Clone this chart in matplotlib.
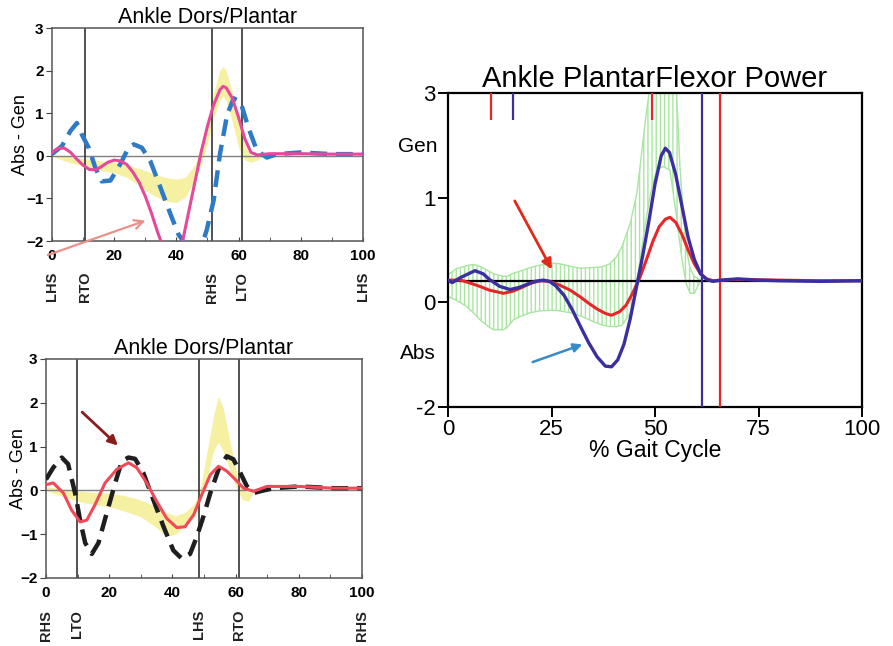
import matplotlib
matplotlib.use('Agg')
import matplotlib.pyplot as plt
from matplotlib.transforms import blended_transform_factory

plt.rcParams['font.family'] = ['Liberation Sans', 'DejaVu Sans']
plt.rcParams['hatch.color'] = '#a8e6a0'
plt.rcParams['hatch.linewidth'] = 1.0

# ---- top left: Ankle Dors/Plantar (pink solid vs blue dashed) ----
tl_pink_x = [0, 2, 4, 6, 8, 10, 12, 14, 16, 18, 20, 22, 24, 26, 28, 30, 32, 34, 36, 38, 40, 42, 44, 46, 48,
             50, 52, 54, 55, 56, 58, 60, 62, 64, 66, 70, 80, 90, 100]
tl_pink_y = [0.08, 0.18, 0.18, 0.08, -0.08, -0.22, -0.32, -0.33, -0.25, -0.15, -0.1, -0.12, -0.2, -0.38, -0.62,
             -0.95, -1.35, -1.8, -2.2, -2.5, -2.45, -2.0, -1.3, -0.6, 0.1, 0.7, 1.2, 1.55, 1.63, 1.6, 1.35, 0.9,
             0.4, 0.08, 0.02, 0.05, 0.05, 0.04, 0.04]
tl_blue_x = [0, 3.2, 5.9, 8, 9.6, 11.8, 13.9, 16, 18.8, 22, 24.6, 26.3, 28.9, 31.6, 34.8, 38, 40.7, 41.8, 44, 46,
             48, 49.8, 52, 54, 56.3, 58.4, 60.6, 63.2, 65.9, 69.1, 72.3, 80, 90, 100]
tl_blue_y = [0.04, 0.23, 0.58, 0.77, 0.5, 0.19, -0.27, -0.6, -0.58, -0.19, 0.19, 0.27, 0.19, -0.12, -0.73, -1.35,
             -1.85, -1.96, -2.3, -2.35, -2.15, -1.73, -1.04, 0.04, 0.96, 1.35, 1.27, 0.65, 0.12, -0.04, 0.04,
             0.08, 0.04, 0.04]
tl_band_x = [0, 4, 8, 12, 16, 20, 24, 28, 32, 36, 40, 43, 46, 48, 50, 52, 54, 55, 56, 58, 60, 62, 64, 66, 68]
tl_band_hi = [0.02, 0.0, -0.05, -0.08, -0.12, -0.15, -0.2, -0.3, -0.4, -0.5, -0.55, -0.5, -0.2, 0.2, 0.8, 1.5,
              2.0, 2.1, 2.0, 1.5, 0.8, 0.25, 0.0, 0.0, 0.0]
tl_band_lo = [0.0, -0.12, -0.2, -0.28, -0.35, -0.4, -0.5, -0.7, -0.9, -1.05, -1.1, -0.95, -0.55, -0.2, 0.3, 0.9,
              1.3, 1.4, 1.3, 0.8, 0.2, -0.1, -0.15, -0.1, 0.0]
tl_events = [0, 10.6, 51.4, 61, 100]
tl_event_labels = ['LHS', 'RTO', 'RHS', 'LTO', 'LHS']

# ---- bottom left: Ankle Dors/Plantar (red solid vs black dashed) ----
bl_red_x = [0, 2.3, 5.5, 8.1, 10.8, 12.9, 15.5, 18.7, 22.4, 26.1, 28.7, 31.9, 35, 38.2, 41.4, 44, 46.7, 49.3,
            52, 54.6, 57.2, 59.9, 62.5, 65.7, 69.9, 80, 91, 100]
bl_red_y = [0.13, 0.17, -0.06, -0.45, -0.72, -0.68, -0.33, 0.17, 0.48, 0.63, 0.52, 0.17, -0.25, -0.64, -0.85,
            -0.83, -0.56, -0.1, 0.36, 0.55, 0.44, 0.25, 0.05, -0.02, 0.09, 0.09, 0.05, 0.05]
bl_black_x = [0, 2.3, 5, 7, 9.2, 10.8, 12.4, 14.5, 16.6, 19.2, 21.9, 24, 26.1, 28.2, 30.8, 34, 37.2, 40.3, 43,
              45.6, 47.7, 49.8, 52, 54.6, 57.2, 59.3, 61.5, 63.6, 65.7, 67.8, 72, 80, 91, 100]
bl_black_y = [0.25, 0.52, 0.75, 0.6, -0.06, -0.68, -1.2, -1.45, -1.2, -0.52, 0.17, 0.67, 0.75, 0.72, 0.4, -0.22,
              -0.83, -1.37, -1.56, -1.45, -1.06, -0.6, -0.06, 0.48, 0.78, 0.71, 0.4, 0.09, -0.06, -0.02, 0.05,
              0.09, 0.05, 0.05]
bl_band_x = [0, 4, 8, 12, 16, 20, 25, 30, 35, 38, 41, 44, 47, 49, 51, 53, 54.5, 56, 58, 60, 62, 64, 66]
bl_band_hi = [0.08, 0.05, 0.0, -0.03, -0.05, -0.06, -0.12, -0.22, -0.38, -0.5, -0.58, -0.5, -0.3, 0.1, 0.9, 1.7,
              2.15, 1.9, 1.2, 0.5, 0.05, -0.05, 0.0]
bl_band_lo = [0.0, -0.1, -0.2, -0.28, -0.33, -0.37, -0.48, -0.6, -0.85, -1.05, -1.0, -0.8, -0.6, -0.2, 0.3, 0.9,
              1.1, 0.9, 0.5, 0.1, -0.2, -0.25, 0.0]
bl_events = [0, 9.8, 48.4, 61, 100]
bl_event_labels = ['RHS', 'LTO', 'LHS', 'RTO', 'RHS']

# ---- right: Ankle PlantarFlexor Power ----
r_blue_x = [0, 1, 3, 6.5, 8.5, 10, 12.5, 15, 17, 19, 21, 23, 24.5, 26, 28, 30, 32, 34, 36, 38, 39.5, 41, 42.5, 44,
            45.5, 47, 48.5, 50, 51.5, 52.5, 53.5, 55, 56.5, 58, 59.5, 61, 62.5, 64, 66, 70, 75, 80, 90, 100]
r_blue_y = [0.02, -0.02, 0.06, 0.17, 0.12, 0.03, -0.08, -0.13, -0.1, -0.05, 0.0, 0.02, 0.0, -0.07, -0.22, -0.45,
            -0.72, -0.98, -1.2, -1.35, -1.36, -1.25, -1.0, -0.6, -0.1, 0.4, 0.95, 1.55, 2.0, 2.12, 2.05, 1.7, 1.2,
            0.7, 0.35, 0.12, 0.03, 0.0, 0.02, 0.04, 0.02, 0.01, 0.0, 0.01]
r_red_x = [0, 3, 5, 7.7, 10, 13.4, 15.5, 17.4, 20, 22.2, 24.5, 27, 29.5, 32, 34, 36, 38, 39.5, 41.5, 43, 44.5,
           46.4, 48, 49.5, 51, 52.5, 53.6, 55, 56.5, 58, 59.5, 61, 62.5, 64, 66, 70, 80, 90, 100]
r_red_y = [0.02, 0.02, -0.02, -0.08, -0.14, -0.19, -0.16, -0.11, -0.03, 0.01, 0.0, -0.06, -0.14, -0.25, -0.35,
           -0.44, -0.51, -0.54, -0.48, -0.38, -0.2, 0.07, 0.36, 0.64, 0.87, 0.99, 1.02, 0.94, 0.75, 0.5, 0.28,
           0.12, 0.04, 0.01, 0.02, 0.03, 0.02, 0.01, 0.01]
r_band_x = [0, 2, 4.5, 6.1, 7.7, 10, 11, 13.4, 14.2, 15.8, 18.2, 19.8, 22.2, 25.4, 27, 30.3, 32, 35.1, 37, 39.1,
            40.7, 42, 44, 45.6, 46.4, 47.2, 48, 48.8, 49.2, 50.4, 52, 53.6, 55.2, 56, 56.8, 57.6, 58.5, 59.5, 61,
            62, 64]
r_band_hi = [0.11, 0.2, 0.25, 0.27, 0.24, 0.16, 0.12, 0.08, 0.08, 0.13, 0.18, 0.22, 0.26, 0.29, 0.28, 0.23, 0.21,
             0.22, 0.23, 0.28, 0.39, 0.55, 0.92, 1.4, 1.83, 2.3, 2.73, 3.1, 3.2, 3.3, 3.3, 3.3, 3.0, 1.85, 1.1, 0.5,
             0.2, 0.08, 0.02, 0.0, 0.0]
r_band_lo = [-0.24, -0.3, -0.4, -0.5, -0.61, -0.73, -0.77, -0.77, -0.74, -0.61, -0.54, -0.5, -0.47, -0.46, -0.47,
             -0.51, -0.55, -0.64, -0.69, -0.72, -0.72, -0.7, -0.51, -0.03, 0.33, 0.71, 1.05, 1.35, 1.48, 1.77,
             1.83, 1.77, 1.03, 0.6, 0.23, -0.05, -0.19, -0.19, 0.02, 0.0, 0.0]
r_short_marks = [10.4, 15.6, 49.2]
r_short_colors = ['#e8262a', '#3b2fa0', '#e8262a']
r_toe_off = [61.4, 65.7]
r_toe_colors = ['#3b2fa0', '#e8262a']
r_ytick_pos = [3, 1.32, -0.33, -2]
r_ytick_labels = ['3', '1', '0', '-2']
r_xticks = [0, 25, 50, 75, 100]


def gait_panel(ax, band_x, band_hi, band_lo, events, event_labels, label_y, ylabel_x):
    ax.fill_between(band_x, band_lo, band_hi, color='#f5f0a2', lw=0, zorder=1)
    ax.axhline(0, color='#808080', lw=1, zorder=2)
    for ev in events[1:-1]:
        ax.axvline(ev, color='#333333', lw=1.2, zorder=2)
    ax.set_xlim(0, 100)
    ax.set_ylim(-2, 3)
    ax.set_xticks(range(0, 101, 20))
    ax.set_xticks(range(0, 101, 10), minor=True)
    ax.set_yticks(range(-2, 4))
    ax.tick_params(axis='x', which='both', direction='in', length=3, labelsize=11, pad=6, color='#444444')
    ax.tick_params(axis='y', direction='out', length=4, labelsize=11, pad=2, color='#444444')
    for lab in ax.get_xticklabels() + ax.get_yticklabels():
        lab.set_fontweight('bold')
    for sp in ax.spines.values():
        sp.set_color('#555555')
        sp.set_linewidth(1.1)
    ax.set_ylabel('Abs - Gen', fontsize=13)
    ax.yaxis.set_label_coords(ylabel_x, 0.5)
    ax.set_title('Ankle Dors/Plantar', fontsize=15.5, pad=3)
    trans = blended_transform_factory(ax.transData, ax.transAxes)
    for ev, lab in zip(events, event_labels):
        ax.text(ev, label_y, lab, transform=trans, rotation=90, ha='center', va='top',
                fontsize=10.5, fontweight='bold', color='#222222')


fig = plt.figure(figsize=(8.93, 6.46), dpi=100)

# top left
ax1 = fig.add_axes([0.0582, 0.6269, 0.3483, 0.3297])
gait_panel(ax1, tl_band_x, tl_band_hi, tl_band_lo, tl_events, tl_event_labels, -0.145, -0.075)
ax1.plot(tl_blue_x, tl_blue_y, color='#2f7ac6', lw=3.2, dashes=(3.8, 2.0), zorder=3)
ax1.plot(tl_pink_x, tl_pink_y, color='#e6489c', lw=2.2, zorder=4)
ax1.annotate('', xy=(30.9, -1.5), xytext=(-2.2, -2.35), annotation_clip=False,
             arrowprops=dict(arrowstyle='->', color='#e8908a', lw=1.6, mutation_scale=16))

# bottom left
ax2 = fig.add_axes([0.0515, 0.1053, 0.3539, 0.339])
gait_panel(ax2, bl_band_x, bl_band_hi, bl_band_lo, bl_events, bl_event_labels, -0.145, -0.06)
ax2.plot(bl_black_x, bl_black_y, color='#1e1e1e', lw=3.2, dashes=(3.8, 2.0), zorder=3)
ax2.plot(bl_red_x, bl_red_y, color='#f04a58', lw=2.2, zorder=4)
ax2.annotate('', xy=(23.4, 0.98), xytext=(10.8, 1.83),
             arrowprops=dict(arrowstyle='-|>', color='#8b1c1c', lw=2, mutation_scale=14))

# right
ax3 = fig.add_axes([0.5017, 0.3700, 0.4636, 0.4861])
ax3.fill_between(r_band_x, r_band_lo, r_band_hi, facecolor='none', edgecolor='#a8e6a0',
                 hatch='||||', lw=1.0, zorder=1)
ax3.axhline(0, color='black', lw=1.6, zorder=2)
ax3.vlines(r_short_marks, 2.57, 3, colors=r_short_colors, lw=1.6, zorder=3)
for xv, c in zip(r_toe_off, r_toe_colors):
    ax3.axvline(xv, color=c, lw=1.6, zorder=3)
ax3.plot(r_red_x, r_red_y, color='#e8262a', lw=2.2, zorder=4)
ax3.plot(r_blue_x, r_blue_y, color='#3b2fa0', lw=2.4, zorder=5)
ax3.set_xlim(0, 100)
ax3.set_ylim(-2, 3)
ax3.set_xticks(r_xticks)
ax3.set_xticklabels([str(t) for t in r_xticks])
ax3.set_yticks(r_ytick_pos)
ax3.set_yticklabels(r_ytick_labels)
ax3.tick_params(direction='out', length=7, width=1.4, labelsize=16, pad=2)
for sp in ax3.spines.values():
    sp.set_linewidth(1.6)
ax3.set_xlabel('% Gait Cycle', fontsize=16.5, labelpad=-1)
ax3.set_title('Ankle PlantarFlexor Power', fontsize=21, pad=3)
ax3.text(-0.072, 0.828, 'Gen', transform=ax3.transAxes, ha='center', va='center', fontsize=15)
ax3.text(-0.072, 0.169, 'Abs', transform=ax3.transAxes, ha='center', va='center', fontsize=15)
ax3.annotate('', xy=(25.4, 0.15), xytext=(15.8, 1.32),
             arrowprops=dict(arrowstyle='-|>', color='#e02a1a', lw=2, mutation_scale=15))
ax3.annotate('', xy=(33.1, -0.99), xytext=(19.8, -1.3),
             arrowprops=dict(arrowstyle='-|>', color='#3a8ac4', lw=1.8, mutation_scale=13))

plt.savefig('out.png', dpi=100)
